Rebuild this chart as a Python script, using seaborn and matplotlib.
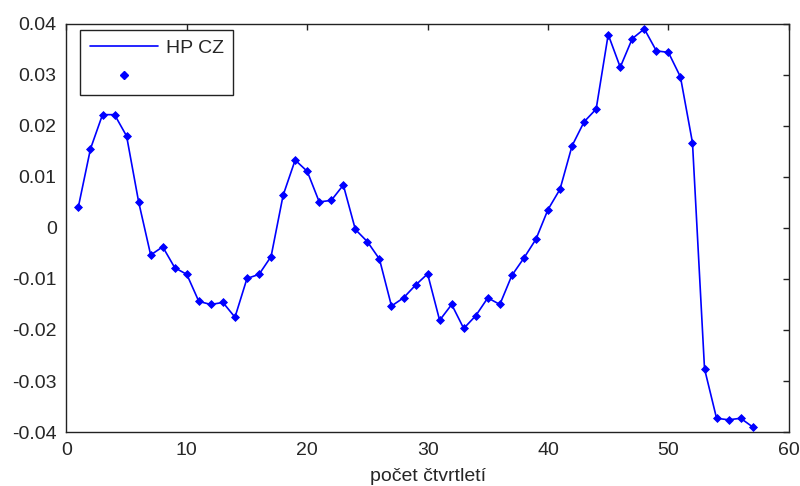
import numpy as np
import pandas as pd
import matplotlib
matplotlib.use("Agg")
import matplotlib.pyplot as plt
import seaborn as sns
from matplotlib.lines import Line2D
from matplotlib.ticker import FuncFormatter

# data
quarters = list(range(1, 58))
hp_cz = [0.0042, 0.0155, 0.0222, 0.0222, 0.0180, 0.0051, -0.0053, -0.0037, -0.0078, -0.0091,
         -0.0144, -0.0150, -0.0146, -0.0175, -0.0099, -0.0091, -0.0056, 0.0064, 0.0133, 0.0111,
         0.0051, 0.0054, 0.0084, -0.0003, -0.0027, -0.0061, -0.0153, -0.0137, -0.0112, -0.0090,
         -0.0181, -0.0150, -0.0197, -0.0172, -0.0137, -0.0150, -0.0093, -0.0059, -0.0022, 0.0036,
         0.0076, 0.0161, 0.0208, 0.0233, 0.0379, 0.0315, 0.0371, 0.0390, 0.0347, 0.0344,
         0.0296, 0.0167, -0.0276, -0.0373, -0.0376, -0.0373, -0.0390]
legend_labels = ["HP CZ", ""]
x_label = "počet čtvrtletí"

data = pd.DataFrame({"q": quarters, "hp": hp_cz})

sns.set_style("white")
plt.rcParams["font.family"] = ["Liberation Sans", "DejaVu Sans"]
plt.rcParams["font.size"] = 14

fig = plt.figure(figsize=(8, 4.86), dpi=100)
ax = fig.add_axes([0.083, 0.111, 0.903, 0.840])

# line + markers
sns.lineplot(data=data, x="q", y="hp", color="blue", linewidth=1.2, ax=ax)
sns.scatterplot(data=data, x="q", y="hp", color="blue", marker="D", s=16,
                edgecolor="blue", linewidth=0.6, ax=ax, zorder=3)

ax.set_xlim(0, 60)
ax.set_ylim(-0.04, 0.04)
ax.set_xticks(np.arange(0, 61, 10))
ax.set_yticks(np.arange(-0.04, 0.0401, 0.01))
ax.yaxis.set_major_formatter(FuncFormatter(lambda v, p: "%g" % round(v, 3)))
ax.set_xlabel(x_label, fontsize=14, labelpad=7)
ax.set_ylabel("")

for s in ax.spines.values():
    s.set_visible(True)
    s.set_color("#222222")
    s.set_linewidth(1.0)
ax.tick_params(direction="in", length=4, width=1, color="#222222",
               top=True, right=True, labelsize=14, pad=7)

handles = [Line2D([], [], color="blue", linewidth=1.2),
           Line2D([], [], color="blue", marker="D", markersize=4, linestyle="none")]
leg = ax.legend(handles, legend_labels, loc="upper left", bbox_to_anchor=(0.019, 0.985),
                borderaxespad=0, frameon=True, fancybox=False, framealpha=1,
                handlelength=3.5, handletextpad=0.4, borderpad=0.5, labelspacing=0.55,
                fontsize=14)
leg.get_frame().set_edgecolor("#222222")
leg.get_frame().set_linewidth(1.0)

fig.savefig("out.png", dpi=100)
